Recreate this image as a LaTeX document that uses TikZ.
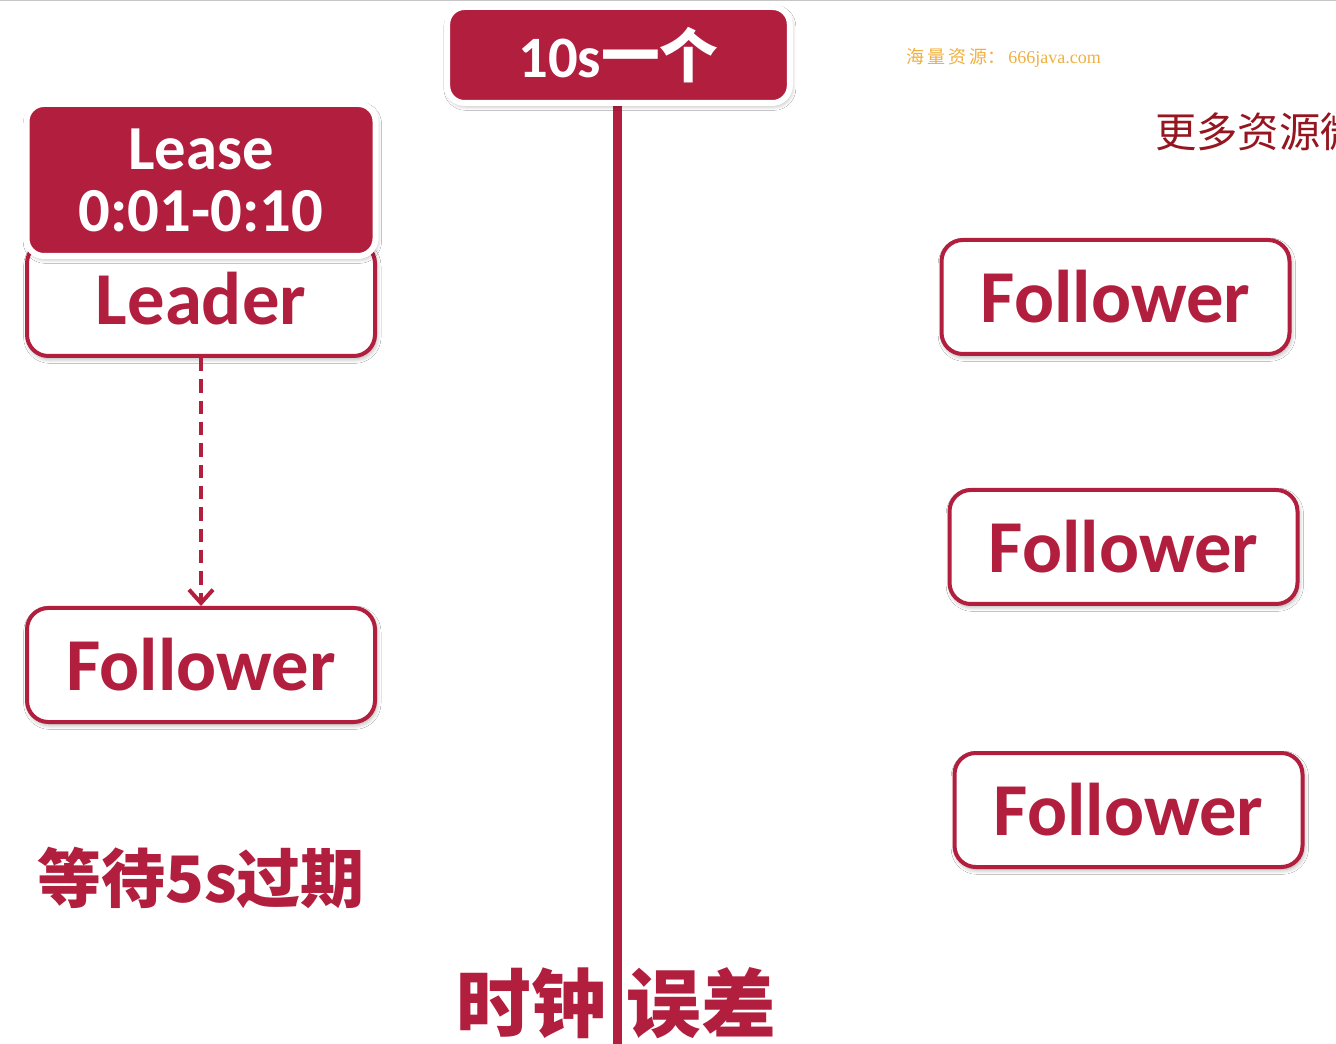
\documentclass[tikz,border=0pt]{standalone}
\usepackage{fontspec}
\setmainfont{Carlito}
\newfontfamily\cjk{Noto Sans CJK SC}
\newfontfamily\wmserif{Liberation Serif}
\usetikzlibrary{arrows.meta,shadows.blur}
\definecolor{crim}{RGB}{178,30,62}
\definecolor{wmorange}{RGB}{240,176,64}
\definecolor{darkred}{RGB}{150,22,32}
\begin{document}
\begin{tikzpicture}[x=0.75pt,y=-0.75pt,
  softshadow/.style={blur shadow={shadow xshift=1pt,shadow yshift=-2pt,shadow blur steps=6,shadow opacity=35,shadow blur radius=3.5pt}},
  whitebox/.style={draw=crim,line width=3pt,fill=white,rounded corners=16pt,
    minimum width=261pt,minimum height=85.5pt,inner sep=0pt,softshadow,
    text=crim,font=\bfseries\fontsize{56}{56}\selectfont},
  redbox/.style={draw=white,line width=4.5pt,fill=crim,rounded corners=13pt,
    inner sep=0pt,softshadow,text=white,align=center},
  bigcn/.style={text=crim,font=\cjk\bfseries\fontsize{56}{56}\selectfont,inner sep=0pt}
]
\useasboundingbox (0,0) rectangle (1336,1044);
\fill[white] (0,0) rectangle (1336,1044);
\draw[gray!45,line width=1pt] (0,0.7) -- (1336,0.7);

% vertical timeline
\coordinate (lineend) at (617.5,1044);
\coordinate (linetop) at (617.5,100);
\draw[crim,line width=6.5pt] (linetop) -- (lineend);

% top box
\node[redbox,minimum width=257pt,minimum height=72pt,font=\bfseries\fontsize{44}{44}\selectfont] (top) at (618.5,55) {10s{\cjk\bfseries 一个}};

% leader and lease
\node[whitebox] (leader) at (201,299) {\raisebox{-3pt}{Leader}};
\node[redbox,minimum width=261.75pt,minimum height=114pt,font=\bfseries\fontsize{47}{46.5}\selectfont] (lease) at (201,180) {Lease\\0:01-0:10};

% left follower
\node[whitebox] (fl) at (201,665) {Follower};
\draw[crim,line width=3.3pt,dash pattern=on 10pt off 6pt,
  -{Straight Barb[length=10pt,width=18pt,line width=3pt]}] (leader.south) -- (fl.north);

% right followers
\node[whitebox] (fr1) at (1115.5,297) {Follower};
\node[whitebox] (fr2) at (1123.5,547) {Follower};
\node[whitebox] (fr3) at (1128.5,810) {Follower};

% texts
\node[bigcn,anchor=west,font=\cjk\bfseries\fontsize{48}{48}\selectfont] (wait) at (37,878) {等待5s过期};
\node[bigcn] (clk1) at (531,1003) {时钟};
\node[bigcn] (clk2) at (701,1003) {误差};

% watermarks
\node[anchor=west,text=wmorange,inner sep=0pt] (wm) at (906,58) {\cjk\fontsize{13.5}{14}\selectfont 海\,量\,资\,源：\,\wmserif 666java.com};
\node[anchor=west,text=darkred,inner sep=0pt] (more) at (1155,132) {\cjk\fontsize{31}{32}\selectfont 更多资源微};
\end{tikzpicture}
\end{document}
